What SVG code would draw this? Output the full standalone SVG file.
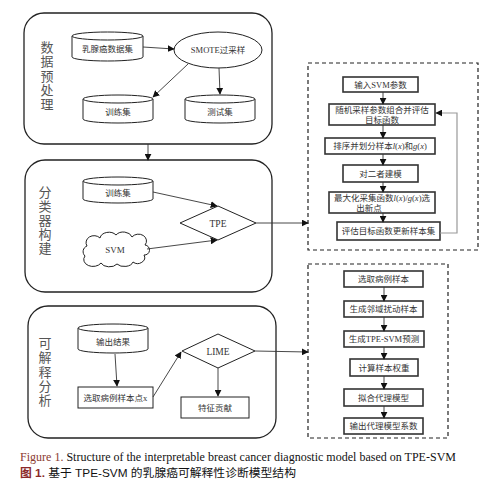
<svg xmlns="http://www.w3.org/2000/svg" width="502" height="487" viewBox="0 0 502 487">
<style>
.panel{fill:#fff;stroke:#222;stroke-width:1.3}
.shape{fill:#fff;stroke:#222;stroke-width:1}
.box{fill:#fff;stroke:#333;stroke-width:1.6}
.dash{fill:none;stroke:#222;stroke-width:1.2;stroke-dasharray:4,3}
.t{font-family:"Liberation Serif","Noto Sans CJK SC",serif;font-size:8.5px;fill:#333;text-anchor:middle}
.lab{font-family:"Liberation Serif","Noto Sans CJK SC",serif;font-size:13px;fill:#555;text-anchor:middle}
.c line,.c polyline{stroke:#333;stroke-width:0.9;fill:none;marker-end:url(#ah)}
.cap{font-family:"Liberation Serif",serif;font-size:12px;fill:#111}
.capcn{font-family:"Liberation Sans","Noto Sans CJK SC",sans-serif;font-size:11.8px;fill:#111}
</style>
<defs>
<marker id="ah" viewBox="0 0 10 10" refX="9" refY="5" markerWidth="7" markerHeight="7" markerUnits="userSpaceOnUse" orient="auto">
<path d="M0,0 L10,5 L0,10 z" fill="#111"/>
</marker>
</defs>

<!-- panels -->
<g id="panel-preprocess">
<rect class="panel" x="24" y="13" width="248" height="131" rx="20"/>
<text class="lab"><tspan x="47" y="52">数</tspan><tspan x="47" dy="14.3">据</tspan><tspan x="47" dy="14.3">预</tspan><tspan x="47" dy="14.3">处</tspan><tspan x="47" dy="14.3">理</tspan></text>
</g>
<g id="panel-classifier">
<rect class="panel" x="25" y="160" width="247" height="132" rx="20"/>
<text class="lab"><tspan x="45" y="197">分</tspan><tspan x="45" dy="14">类</tspan><tspan x="45" dy="14">器</tspan><tspan x="45" dy="14">构</tspan><tspan x="45" dy="14">建</tspan></text>
</g>
<g id="panel-explain">
<rect class="panel" x="28" y="306" width="248" height="132" rx="20"/>
<text class="lab"><tspan x="45" y="348">可</tspan><tspan x="45" dy="14.3">解</tspan><tspan x="45" dy="14.3">释</tspan><tspan x="45" dy="14.3">分</tspan><tspan x="45" dy="14.3">析</tspan></text>
</g>
<g id="tpe-detail">
<rect class="dash" x="308" y="63" width="170" height="187"/>
</g>
<g id="lime-detail">
<rect class="dash" x="308" y="264" width="140" height="174"/>
</g>

<!-- panel 1 nodes -->
<g id="n-dataset">
<path class="shape" d="M72,36 V57 A35.5,4 0 0 0 143,57 V36"/>
<ellipse class="shape" cx="107.5" cy="36" rx="35.5" ry="4"/>
<text class="t" x="107.5" y="52">乳腺癌数据集</text>
</g>
<g id="n-smote">
<ellipse class="shape" cx="218" cy="50" rx="44" ry="18"/>
<text class="t" x="218" y="53">SMOTE过采样</text>
</g>
<g id="n-train1">
<path class="shape" d="M83,99 V119 A35,4 0 0 0 153,119 V99"/>
<ellipse class="shape" cx="118" cy="99" rx="35" ry="4"/>
<text class="t" x="118" y="115">训练集</text>
</g>
<g id="n-test">
<path class="shape" d="M185,99 V119 A35,4 0 0 0 255,119 V99"/>
<ellipse class="shape" cx="220" cy="99" rx="35" ry="4"/>
<text class="t" x="220" y="115">测试集</text>
</g>

<!-- panel 2 nodes -->
<g id="n-train2">
<path class="shape" d="M83,181 V199 A35,4 0 0 0 153,199 V181"/>
<ellipse class="shape" cx="118" cy="181" rx="35" ry="4"/>
<text class="t" x="118" y="196">训练集</text>
</g>
<g id="n-tpe">
<polygon class="shape" points="180,223 218,206 256,223 218,240"/>
<text class="t" x="218" y="226.5" style="font-size:9.5px">TPE</text>
</g>
<g id="n-svm">
<path class="shape" d="M85,256 a6,6 0 0 1 2,-10 a8,7 0 0 1 13,-8 a9,7 0 0 1 16,-3 a9,7 0 0 1 16,2 a7,6 0 0 1 13,8 a5,5 0 0 1 -1,10 a7,6 0 0 1 -11,7 a9,6 0 0 1 -16,2 a9,6 0 0 1 -16,-1 a8,6 0 0 1 -16,-7 z"/>
<text class="t" x="115" y="253" style="font-size:9px">SVM</text>
</g>

<!-- panel 3 nodes -->
<g id="n-output">
<path class="shape" d="M78,328 V349 A35,4 0 0 0 148,349 V328"/>
<ellipse class="shape" cx="113" cy="328" rx="35" ry="4"/>
<text class="t" x="113" y="345">输出结果</text>
</g>
<g id="n-select">
<rect class="shape" x="78" y="387" width="75" height="21"/>
<text class="t" x="115.5" y="400.5">选取病例样本点x</text>
</g>
<g id="n-lime">
<polygon class="shape" points="182,351 218,334 255,351 218,368"/>
<text class="t" x="218" y="354.5" style="font-size:9.5px">LIME</text>
</g>
<g id="n-feature">
<rect class="shape" x="181" y="397" width="68" height="21"/>
<text class="t" x="215" y="410.5">特征贡献</text>
</g>

<!-- TPE detail boxes -->
<g id="b1"><rect class="box" x="343" y="77" width="75" height="15"/><text class="t" x="380.5" y="87.5">输入SVM参数</text></g>
<g id="b2"><rect class="box" x="329" y="104" width="106" height="21"/><text class="t" x="382" y="113">随机采样参数组合并评估</text><text class="t" x="382" y="122.5">目标函数</text></g>
<g id="b3"><rect class="box" x="325" y="138" width="110" height="16"/><text class="t" x="380" y="149">排序并划分样本<tspan font-style="italic">l</tspan>(<tspan font-style="italic">x</tspan>)和<tspan font-style="italic">g</tspan>(<tspan font-style="italic">x</tspan>)</text></g>
<g id="b4"><rect class="box" x="343" y="165" width="75" height="17"/><text class="t" x="380.5" y="176.5">对二者建模</text></g>
<g id="b5"><rect class="box" x="329" y="192" width="106" height="21"/><text class="t" x="382" y="201">最大化采集函数<tspan font-style="italic">l</tspan>(<tspan font-style="italic">x</tspan>)/<tspan font-style="italic">g</tspan>(<tspan font-style="italic">x</tspan>)选</text><text class="t" x="369" y="210.5">出新点</text></g>
<g id="b6"><rect class="box" x="337" y="222" width="103" height="18"/><text class="t" x="388.5" y="234">评估目标函数更新样本集</text></g>

<!-- LIME detail boxes -->
<g id="c1"><rect class="box" x="344" y="271" width="79" height="16"/><text class="t" x="383.5" y="282">选取病例样本</text></g>
<g id="c2"><rect class="box" x="344" y="301" width="79" height="16"/><text class="t" x="383.5" y="312">生成邻域扰动样本</text></g>
<g id="c3"><rect class="box" x="344" y="331" width="80" height="16"/><text class="t" x="384" y="342">生成TPE-SVM预测</text></g>
<g id="c4"><rect class="box" x="350" y="359" width="68" height="17"/><text class="t" x="384" y="370.5">计算样本权重</text></g>
<g id="c5"><rect class="box" x="344" y="389" width="79" height="17"/><text class="t" x="383.5" y="400.5">拟合代理模型</text></g>
<g id="c6"><rect class="box" x="344" y="418" width="79" height="16"/><text class="t" x="383.5" y="429">输出代理模型系数</text></g>

<!-- connectors -->
<g id="connectors" class="c">
<line x1="143" y1="47" x2="174" y2="49"/>
<line x1="188" y1="64" x2="153" y2="97"/>
<line x1="219" y1="68" x2="220" y2="94"/>
<line x1="148" y1="144" x2="148" y2="160"/>
<line x1="153" y1="192" x2="217" y2="206"/>
<line x1="147" y1="249" x2="217" y2="240"/>
<line x1="256" y1="223" x2="308" y2="223"/>
<line x1="115" y1="354" x2="117" y2="386"/>
<line x1="153" y1="397" x2="181" y2="352"/>
<line x1="218" y1="368" x2="218" y2="396"/>
<line x1="255" y1="351" x2="308" y2="352"/>
<line x1="383" y1="92" x2="383" y2="104"/>
<line x1="383" y1="125" x2="383" y2="138"/>
<line x1="383" y1="154" x2="383" y2="165"/>
<line x1="383" y1="182" x2="383" y2="192"/>
<line x1="383" y1="213" x2="383" y2="222"/>
<polyline points="440,233 457,233 457,113 436,113" style="stroke:#999;stroke-width:1.2"/>
<line x1="384" y1="287" x2="384" y2="301"/>
<line x1="384" y1="317" x2="384" y2="331"/>
<line x1="384" y1="347" x2="384" y2="359"/>
<line x1="384" y1="376" x2="384" y2="389"/>
<line x1="384" y1="406" x2="384" y2="418"/>
</g>

<!-- caption -->
<text class="cap" x="20" y="461" textLength="436" lengthAdjust="spacing"><tspan fill="#8b3a2f">Figure 1.</tspan> Structure of the interpretable breast cancer diagnostic model based on TPE-SVM</text>
<text class="capcn" x="20" y="477"><tspan fill="#8b2a2a" font-weight="bold">图 1.</tspan> 基于 TPE-SVM 的乳腺癌可解释性诊断模型结构</text>
</svg>
